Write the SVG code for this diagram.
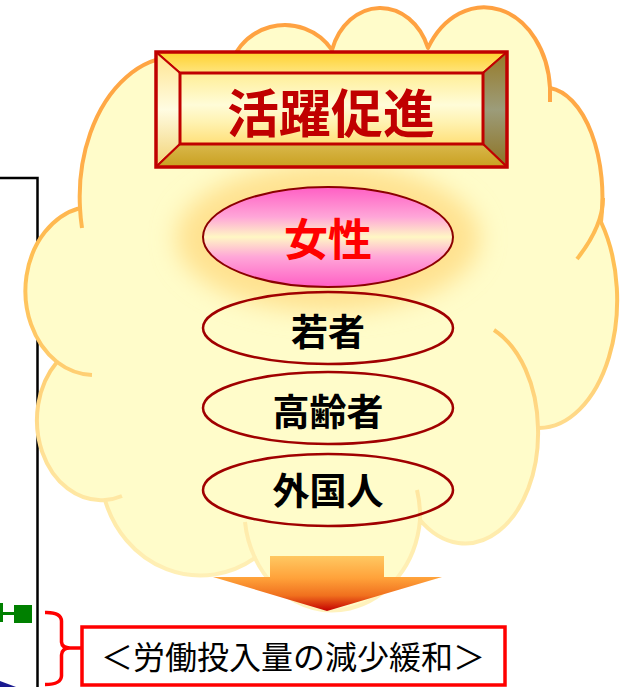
<svg xmlns="http://www.w3.org/2000/svg" width="629" height="687" viewBox="0 0 629 687">
  <style>
    .jp { font-family: "Noto Sans CJK JP", "Noto Sans CJK SC", sans-serif; text-anchor: middle; }
    .item { fill: none; stroke: #A00000; stroke-width: 2.5; }
    .itemtext { font-size: 37px; font-weight: 700; fill: #000; }
    .hook { fill: none; stroke: url(#cloudStroke); stroke-width: 4; }
    .bev { stroke: #C00000; stroke-width: 2; stroke-linejoin: round; }
  </style>
  <defs>
    <linearGradient id="cloudStroke" gradientUnits="userSpaceOnUse" x1="0" y1="0" x2="0" y2="620">
      <stop offset="0" stop-color="#FFA040"/>
      <stop offset="0.25" stop-color="#FFAC48"/>
      <stop offset="0.42" stop-color="#FFC055"/>
      <stop offset="0.56" stop-color="#FFC968"/>
      <stop offset="0.7" stop-color="#FFDD90"/>
      <stop offset="0.84" stop-color="#FFEBAA"/>
      <stop offset="1" stop-color="#FFF3C0"/>
    </linearGradient>
    <linearGradient id="pinkFill" x1="0" y1="0" x2="0" y2="1">
      <stop offset="0" stop-color="#FF5EC4"/>
      <stop offset="0.3" stop-color="#FFA6D8"/>
      <stop offset="0.5" stop-color="#FFF7C4"/>
      <stop offset="0.7" stop-color="#FFA6D8"/>
      <stop offset="1" stop-color="#FF5EC4"/>
    </linearGradient>
    <linearGradient id="bevTop" x1="0" y1="0" x2="0" y2="1">
      <stop offset="0" stop-color="#FFD12E"/>
      <stop offset="1" stop-color="#FFE57E"/>
    </linearGradient>
    <linearGradient id="bevLeft" x1="0" y1="0" x2="0" y2="1">
      <stop offset="0" stop-color="#FFE48E"/>
      <stop offset="0.5" stop-color="#FFFCE2"/>
      <stop offset="1" stop-color="#F2D274"/>
    </linearGradient>
    <linearGradient id="bevRight" x1="0" y1="0" x2="0" y2="1">
      <stop offset="0" stop-color="#977A26"/>
      <stop offset="0.5" stop-color="#9C9C7A"/>
      <stop offset="1" stop-color="#8E7322"/>
    </linearGradient>
    <linearGradient id="bevBottom" x1="0" y1="0" x2="0" y2="1">
      <stop offset="0" stop-color="#D9B84C"/>
      <stop offset="1" stop-color="#C9A020"/>
    </linearGradient>
    <linearGradient id="face" x1="0" y1="0" x2="0" y2="1">
      <stop offset="0" stop-color="#FFEE96"/>
      <stop offset="0.45" stop-color="#FFFCD8"/>
      <stop offset="0.7" stop-color="#FFF2B0"/>
      <stop offset="1" stop-color="#FFE07A"/>
    </linearGradient>
    <linearGradient id="arrowFill" gradientUnits="userSpaceOnUse" x1="0" y1="556" x2="0" y2="611">
      <stop offset="0" stop-color="#FFC862"/>
      <stop offset="0.4" stop-color="#FFA23A"/>
      <stop offset="0.72" stop-color="#F0701E"/>
      <stop offset="1" stop-color="#C40000"/>
    </linearGradient>
    <filter id="soft" x="-50%" y="-50%" width="200%" height="200%">
      <feGaussianBlur stdDeviation="12"/>
    </filter>
  </defs>

  <!-- left frame line and markers -->
  <g id="frame">
    <path d="M0,178 H37.5 V687" fill="none" stroke="#000" stroke-width="2.5"/>
    <rect x="0" y="603" width="3" height="19" fill="#008000"/>
    <line x1="0" y1="613.5" x2="15" y2="613.5" stroke="#008000" stroke-width="3"/>
    <rect x="14" y="605" width="18" height="18" fill="#008000"/>
    <polygon points="0,681 16,687 0,687" fill="#1A1A90"/>
  </g>

  <!-- cloud -->
  <g id="cloud">
    <path d="M80,208 A97,140 0 0 1 228,78 A57,57 0 0 1 332,50 A51,62 0 0 1 428,48 A66,86 0 0 1 550,88 A58,110 0 0 1 601,222 A78,128 0 0 1 538,428 A73,110 0 0 1 420,520 A88,100 0 0 1 255,558 A100,108 0 0 1 105,500 A64,80 0 0 1 57,362 A70,85 0 0 1 80,208 Z" fill="#FFFCCA" stroke="url(#cloudStroke)" stroke-width="4" stroke-linejoin="round"/>
    <path class="hook" d="M80,208 A97,140 0 0 0 82,228"/>
    <path class="hook" d="M57,362 A70,85 0 0 0 92,375"/>
    <path class="hook" d="M105,500 A64,80 0 0 0 122,496"/>
    <path class="hook" d="M255,558 A88,100 0 0 1 245,522"/>
    <path class="hook" d="M420,520 A88,100 0 0 0 417,490"/>
    <path class="hook" d="M538,428 A73,110 0 0 0 494,330"/>
    <path class="hook" d="M603,198 C603,220 592,240 577,259"/>
    <path class="hook" d="M550,86 L550,102"/>
    <ellipse cx="328" cy="238" rx="152" ry="74" fill="#FFE290" filter="url(#soft)"/>
  </g>

  <!-- title plate -->
  <g id="title">
    <rect x="180" y="73" width="303" height="71" fill="url(#face)"/>
    <polygon class="bev" points="156,52 507,52 483,73 180,73" fill="url(#bevTop)"/>
    <polygon class="bev" points="156,52 180,73 180,144 156,167" fill="url(#bevLeft)"/>
    <polygon class="bev" points="507,52 507,167 483,144 483,73" fill="url(#bevRight)"/>
    <polygon class="bev" points="156,167 507,167 483,144 180,144" fill="url(#bevBottom)"/>
    <rect x="180" y="73" width="303" height="71" fill="none" stroke="#C00000" stroke-width="3"/>
    <rect x="156" y="52" width="351" height="115" fill="none" stroke="#C00000" stroke-width="3.5"/>
    <text class="jp" x="331" y="133" font-size="52" font-weight="700" fill="#C00000">活躍促進</text>
  </g>

  <g id="women">
    <ellipse cx="328" cy="237" rx="125" ry="50" fill="url(#pinkFill)" stroke="#8B0000" stroke-width="2"/>
    <text class="jp" x="328" y="256" font-size="44" font-weight="700" fill="#FF0000">女性</text>
  </g>
  <g id="youth">
    <ellipse class="item" cx="328" cy="328" rx="125" ry="36"/>
    <text class="jp itemtext" x="328" y="346">若者</text>
  </g>
  <g id="elderly">
    <ellipse class="item" cx="328" cy="408" rx="125" ry="36"/>
    <text class="jp itemtext" x="328" y="426">高齢者</text>
  </g>
  <g id="foreign">
    <ellipse class="item" cx="328" cy="490" rx="125" ry="36"/>
    <text class="jp itemtext" x="328" y="505">外国人</text>
  </g>

  <!-- connectors -->
  <g id="connectors">
    <polygon points="270,556 384,556 384,577 442,577 327,611 213,577 270,577" fill="url(#arrowFill)"/>
    <path d="M45,612.5 Q61,612 61.5,621 V642 Q62,648 70,648 H82 M70,648 Q62,648 61.5,655 V676 Q61,684.5 45,684.5" fill="none" stroke="#FF0000" stroke-width="3.5"/>
  </g>

  <g id="result">
    <rect x="82" y="627" width="423" height="58" fill="#FFFFFF" stroke="#FF0000" stroke-width="3.5"/>
    <text class="jp" x="293" y="669" font-size="32" font-weight="400" fill="#000">＜労働投入量の減少緩和＞</text>
  </g>
</svg>
